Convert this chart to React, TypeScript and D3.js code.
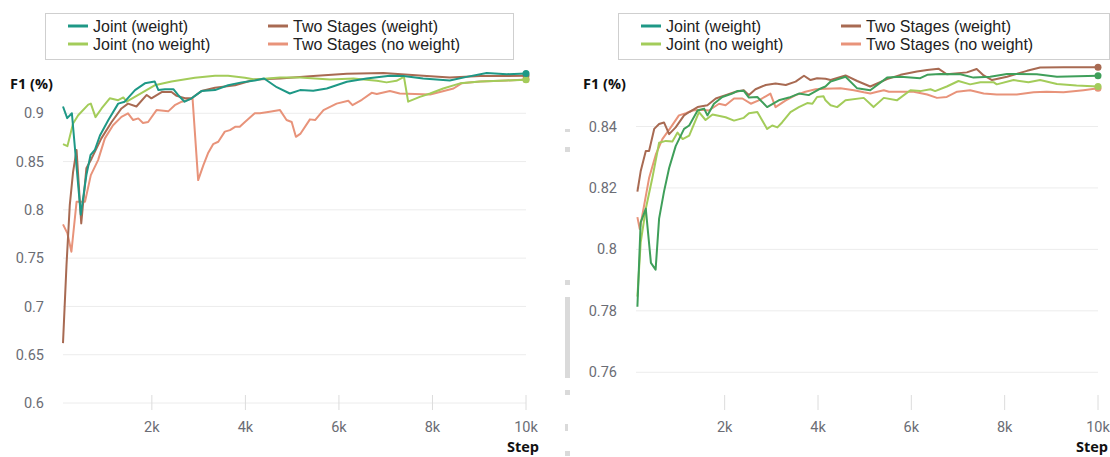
import React from 'react';
import * as d3 from 'd3';

type Pt = [number, number];

const legendNames = ['Joint (weight)', 'Two Stages (weight)', 'Joint (no weight)', 'Two Stages (no weight)'];
const legendColors = ['#1e9886', '#a86a52', '#a3cc5a', '#e8937a'];
const xTicks = [2000, 4000, 6000, 8000, 10000];
const leftYTicks = [0.6, 0.65, 0.7, 0.75, 0.8, 0.85, 0.9];
const rightYTicks = [0.76, 0.78, 0.8, 0.82, 0.84];

// left panel
const leftJointW: Pt[] = [[100,0.907],[190,0.895],[290,0.900],[480,0.795],[600,0.836],[690,0.857],[780,0.862],[890,0.877],[1070,0.893],[1280,0.910],[1420,0.912],[1640,0.924],[1850,0.931],[2060,0.933],[2140,0.924],[2280,0.925],[2460,0.925],[2560,0.919],[2700,0.912],[2850,0.9155],[3060,0.923],[3350,0.924],[3630,0.929],[3920,0.932],[4200,0.934],[4400,0.936],[4670,0.927],[4950,0.9205],[5170,0.924],[5450,0.9233],[5740,0.9257],[6170,0.9326],[6590,0.936],[7090,0.9388],[7380,0.9385],[7800,0.936],[8370,0.934],[8730,0.9377],[9160,0.9418],[9590,0.9405],[10000,0.9412]];
const leftTwoW: Pt[] = [[100,0.662],[175,0.743],[245,0.805],[315,0.839],[390,0.862],[490,0.786],[600,0.843],[710,0.853],[920,0.874],[1140,0.891],[1350,0.905],[1490,0.910],[1670,0.907],[1890,0.919],[1990,0.9155],[2210,0.922],[2420,0.922],[2530,0.918],[2710,0.9155],[2850,0.9155],[3060,0.923],[3350,0.9264],[3780,0.929],[4200,0.935],[4740,0.936],[5450,0.9385],[6170,0.941],[6950,0.9418],[7800,0.9388],[8370,0.937],[9020,0.9385],[10000,0.9388]];
const leftJointNW: Pt[] = [[100,0.868],[195,0.866],[315,0.8895],[425,0.898],[640,0.909],[695,0.910],[795,0.896],[925,0.905],[1100,0.9155],[1280,0.9136],[1390,0.9164],[1460,0.912],[1710,0.919],[2060,0.929],[2420,0.933],[2920,0.9367],[3350,0.9388],[3630,0.9388],[3990,0.9367],[4200,0.935],[4740,0.937],[5170,0.937],[5810,0.935],[6310,0.936],[6810,0.9336],[7020,0.932],[7230,0.9336],[7390,0.9378],[7480,0.912],[7730,0.917],[7950,0.9205],[8230,0.9257],[8590,0.931],[9020,0.933],[9590,0.934],[10000,0.9346]];
const leftTwoNW: Pt[] = [[100,0.785],[195,0.7756],[280,0.7566],[390,0.8083],[570,0.8083],[695,0.836],[850,0.8515],[995,0.874],[1170,0.8877],[1350,0.8963],[1490,0.900],[1600,0.893],[1710,0.8947],[1810,0.890],[1920,0.891],[2100,0.9033],[2350,0.902],[2490,0.9084],[2640,0.912],[2780,0.914],[2870,0.9155],[2990,0.8308],[3100,0.846],[3200,0.8585],[3310,0.868],[3420,0.8705],[3560,0.881],[3670,0.8826],[3780,0.886],[3880,0.886],[3990,0.891],[4200,0.900],[4310,0.900],[4520,0.9015],[4740,0.9033],[4880,0.893],[4990,0.891],[5080,0.8756],[5180,0.879],[5380,0.8937],[5490,0.893],[5670,0.9033],[5950,0.910],[6200,0.913],[6290,0.9084],[6490,0.914],[6700,0.9212],[6810,0.920],[7090,0.923],[7300,0.9205],[7950,0.9195],[8450,0.9257],[8620,0.931],[9020,0.933],[9590,0.934],[10000,0.935]];

// right panel
const rightJointW: Pt[] = [[130,0.7813],[200,0.8088],[310,0.8132],[420,0.7956],[520,0.7934],[595,0.810],[700,0.8188],[810,0.8265],[950,0.8336],[1130,0.8392],[1240,0.8403],[1420,0.8452],[1560,0.8458],[1630,0.8436],[1770,0.8474],[1950,0.8496],[2160,0.8507],[2270,0.8515],[2410,0.8516],[2520,0.8494],[2700,0.8496],[2910,0.8463],[3160,0.8485],[3380,0.8494],[3590,0.8507],[3800,0.8502],[4020,0.8521],[4160,0.853],[4270,0.8546],[4590,0.8562],[4840,0.8524],[5120,0.8518],[5480,0.8559],[5770,0.8562],[6190,0.8557],[6340,0.8568],[6620,0.8571],[7050,0.857],[7330,0.8559],[7690,0.8562],[8050,0.8571],[8690,0.857],[9120,0.8562],[10000,0.8565]];
const rightTwoW: Pt[] = [[130,0.8188],[200,0.8254],[310,0.832],[380,0.832],[490,0.8392],[595,0.8408],[700,0.8413],[810,0.8375],[950,0.8397],[1130,0.8436],[1240,0.8447],[1420,0.8463],[1630,0.8469],[1810,0.8491],[2020,0.8502],[2240,0.8513],[2410,0.8518],[2520,0.8502],[2660,0.8521],[2880,0.8535],[3090,0.854],[3310,0.8535],[3520,0.8546],[3700,0.8565],[3840,0.8551],[3980,0.8557],[4160,0.8555],[4270,0.8551],[4590,0.8566],[4840,0.8548],[5120,0.853],[5480,0.8554],[5770,0.8568],[6120,0.8579],[6340,0.8584],[6580,0.8588],[6760,0.857],[7190,0.8576],[7400,0.8587],[7550,0.8566],[7730,0.8551],[8050,0.8562],[8480,0.8581],[8760,0.8592],[9260,0.8593],[10000,0.8593]];
const rightJointNW: Pt[] = [[130,0.7846],[200,0.8022],[310,0.8132],[450,0.8232],[595,0.8347],[740,0.8353],[880,0.8351],[990,0.838],[1100,0.8359],[1240,0.837],[1450,0.8447],[1590,0.8421],[1740,0.8439],[2020,0.843],[2200,0.8419],[2410,0.8428],[2520,0.8443],[2700,0.8447],[2910,0.8392],[3020,0.8403],[3130,0.8397],[3230,0.8413],[3410,0.8447],[3590,0.8463],[3770,0.8476],[3880,0.8474],[3980,0.8496],[4120,0.8498],[4160,0.8485],[4270,0.8469],[4410,0.8463],[4590,0.8485],[4980,0.8493],[5190,0.8463],[5410,0.8493],[5690,0.8485],[5980,0.8518],[6190,0.8515],[6410,0.8521],[6510,0.8515],[6760,0.853],[7010,0.8548],[7260,0.8537],[7480,0.8544],[7760,0.8544],[7830,0.8537],[8190,0.8551],[8510,0.8544],[8760,0.8551],[9120,0.8538],[9540,0.8533],[10000,0.853]];
const rightTwoNW: Pt[] = [[130,0.8105],[180,0.8066],[275,0.8144],[380,0.8232],[525,0.8309],[665,0.8359],[845,0.8397],[1020,0.8436],[1170,0.8443],[1310,0.8452],[1490,0.8454],[1660,0.8452],[1880,0.8474],[2020,0.8469],[2200,0.8491],[2380,0.8491],[2560,0.8474],[2730,0.8485],[2880,0.8498],[2980,0.8507],[3090,0.8463],[3310,0.8485],[3520,0.8502],[3730,0.8513],[3950,0.8521],[4160,0.8523],[4480,0.8524],[4770,0.8518],[4980,0.8511],[5120,0.8507],[5270,0.8513],[5410,0.8518],[5520,0.8513],[6050,0.8513],[6340,0.8504],[6550,0.8493],[6760,0.8496],[6980,0.8513],[7260,0.8518],[7550,0.8507],[7830,0.8504],[8260,0.8504],[8620,0.8511],[8900,0.8513],[9260,0.8511],[9690,0.8518],[10000,0.8524]];

const tickFont = 'Roboto, "Liberation Sans", sans-serif';
const boldFont = '"Open Sans", "Noto Sans", sans-serif';
const legendFont = '"Liberation Sans", Arial, sans-serif';

interface Series { data: Pt[]; color: string }

interface PanelProps {
  plotLeft: number;
  plotRight: number;
  yDomain: [number, number];
  yTicks: number[];
  series: Series[];
  legendX: number;
  legendW: number;
  stepRight: number;
}

const fmt = d3.format('.2~f');

const Panel = ({ plotLeft, plotRight, yDomain, yTicks, series, legendX, legendW, stepRight }: PanelProps) => {
  const top = 65;
  const bottom = 403;
  const x = d3.scaleLinear().domain([100, 10000]).range([plotLeft, plotRight]);
  const y = d3.scaleLinear().domain(yDomain).range([bottom, top]);
  const line = d3.line<Pt>().x((d) => x(d[0])).y((d) => y(d[1]));

  return (
    <g>
      {/* legend */}
      <rect x={legendX + 0.5} y={13.5} width={legendW} height={46} fill="#fff" stroke="#cfcfcf" />
      {legendNames.map((name, i) => {
        const col = i % 2;
        const row = Math.floor(i / 2);
        const lx = legendX + 23 + col * 200;
        const ly = 26 + row * 18;
        return (
          <g key={name}>
            <line x1={lx} x2={lx + 20} y1={ly} y2={ly} stroke={legendColors[i]} strokeWidth={3} />
            <text x={lx + 25} y={ly + 6} fontFamily={legendFont} fontSize={16} fill="#222">{name}</text>
          </g>
        );
      })}

      {/* grid + y labels */}
      {yTicks.map((t) => (
        <g key={t}>
          <line x1={plotLeft} x2={plotRight} y1={y(t)} y2={y(t)} stroke="#ececec" strokeWidth={1} />
          <text x={plotLeft - 19} y={y(t)} dy="0.35em" textAnchor="end" fontFamily={tickFont} fontSize={14.5} fill="#6b6d75">
            {fmt(t)}
          </text>
        </g>
      ))}

      {/* x ticks */}
      {xTicks.map((t) => (
        <g key={t}>
          <line x1={x(t)} x2={x(t)} y1={395} y2={410} stroke="#dcdcdc" strokeWidth={1} />
          <text x={x(t)} y={432} textAnchor="middle" fontFamily={tickFont} fontSize={14.5} fill="#6b6d75">
            {`${t / 1000}k`}
          </text>
        </g>
      ))}

      <text x={plotLeft - 53} y={89} fontFamily={boldFont} fontWeight="bold" fontSize={14.5} fill="#111">F1 (%)</text>
      <text x={stepRight} y={452} textAnchor="end" fontFamily={boldFont} fontWeight="bold" fontSize={14.5} fill="#111">Step</text>

      {series.map((s, i) => (
        <g key={i}>
          <path d={line(s.data) || ''} fill="none" stroke={s.color} strokeWidth={2} strokeLinejoin="round" />
          <circle cx={x(s.data[s.data.length - 1][0])} cy={y(s.data[s.data.length - 1][1])} r={3.5} fill={s.color} />
        </g>
      ))}
    </g>
  );
};

export default function App() {
  return (
    <svg width={1110} height={457} style={{ position: 'absolute', left: 0, top: 0, background: '#fff' }}>
      <Panel
        plotLeft={63}
        plotRight={526}
        yDomain={[0.6, 0.95]}
        yTicks={leftYTicks}
        legendX={45}
        legendW={468}
        stepRight={539}
        series={[
          { data: leftTwoNW, color: '#e8937a' },
          { data: leftTwoW, color: '#a86a52' },
          { data: leftJointNW, color: '#a3cc5a' },
          { data: leftJointW, color: '#1e9886' },
        ]}
      />
      <Panel
        plotLeft={636}
        plotRight={1098}
        yDomain={[0.75, 0.86]}
        yTicks={rightYTicks}
        legendX={618}
        legendW={491}
        stepRight={1108}
        series={[
          { data: rightTwoNW, color: '#e8937a' },
          { data: rightJointNW, color: '#a3cc5a' },
          { data: rightTwoW, color: '#a86a52' },
          { data: rightJointW, color: '#3f9f5a' },
        ]}
      />
      {/* separator artifacts between the two screenshots */}
      <g fill="#dadada">
        <rect x={565} y={129} width={5} height={3} />
        <rect x={565} y={147} width={5} height={5} />
        <rect x={565} y={280} width={5} height={5} />
        <rect x={565} y={297} width={5} height={81} />
        <rect x={565} y={390} width={5} height={5} />
        <rect x={565} y={424} width={3} height={7} />
        <rect x={565} y={451} width={5} height={5} />
      </g>
    </svg>
  );
}
